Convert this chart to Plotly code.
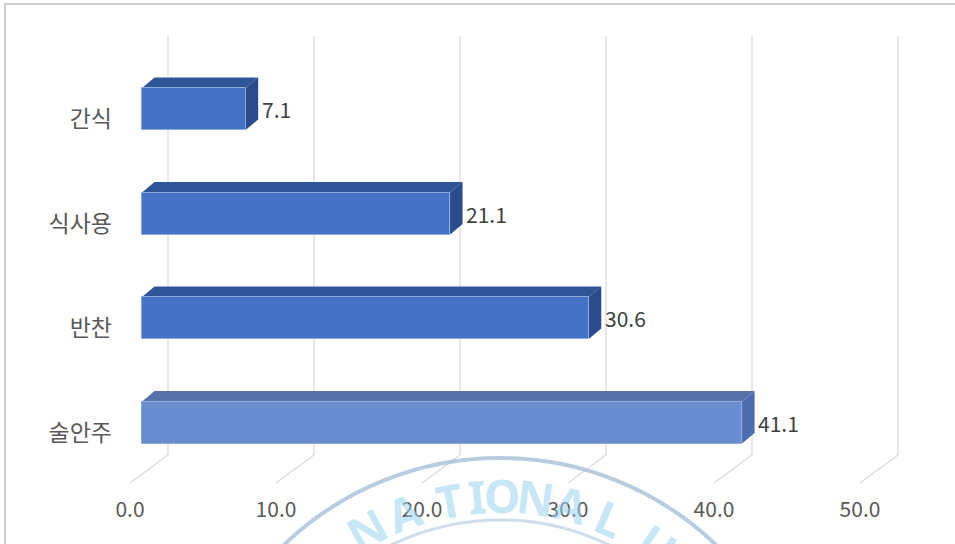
import math
import plotly.graph_objects as go

# ---- data -------------------------------------------------------------
categories = ["간식", "식사용", "반찬", "술안주"]          # top to bottom
values = [7.1, 21.1, 30.6, 41.1]
x_ticks = [0, 10, 20, 30, 40, 50]

front_colors = ["#4472C4", "#4472C4", "#4472C4", "#6A8DD0"]
top_colors = ["#2F5597", "#2F5597", "#2F5597", "#5672A8"]
side_colors = ["#2A4C8C", "#2A4C8C", "#2A4C8C", "#4D6CAD"]

# ---- geometry of the oblique 3-D projection (in axis units) ------------
W, H = 955, 544
L, R, T, B = 125, 950, 10, 495          # plot area in pixels
PX_PER_X = 14.6                         # pixels per unit on the value axis
X0_PX = 142                             # pixel of value 0 on the front plane
PX_PER_Y = 104.5                        # pixels per category step
Y0_PX = 422.5                           # pixel of the bottom category

x_range = [(L - X0_PX) / PX_PER_X, (R - X0_PX) / PX_PER_X]
y_range = [(Y0_PX - B) / PX_PER_Y, (Y0_PX - T) / PX_PER_Y]

bar_h = 42 / PX_PER_Y                  # bar thickness
depth_dx = 12.5 / PX_PER_X             # bar depth vector
depth_dy = 10.5 / PX_PER_Y
wall_dx = 26 / PX_PER_X                # back wall offset for gridlines
floor_dx = -12 / PX_PER_X              # front edge of the floor
wall_top = (Y0_PX - 36) / PX_PER_Y
wall_bottom = (Y0_PX - 455) / PX_PER_Y
floor_front = (Y0_PX - 483) / PX_PER_Y

n = len(categories)
ypos = [n - 1 - k for k in range(n)]   # 간식 on top

fig = go.Figure()

fig.add_trace(go.Bar(
    x=values, y=ypos, orientation="h", width=bar_h,
    marker=dict(color=front_colors, line=dict(color="#8EAADB", width=1)),
    hoverinfo="skip", showlegend=False,
))

shapes = []

# back-wall gridlines with their floor diagonals
for v in x_ticks:
    path = (f"M {v + floor_dx},{floor_front} L {v + wall_dx},{wall_bottom} "
            f"L {v + wall_dx},{wall_top}")
    shapes.append(dict(type="path", path=path, xref="x", yref="y",
                       line=dict(color="#D9D9D9", width=1.2), layer="below"))

# top and side faces of each bar
for v, y, tc, sc in zip(values, ypos, top_colors, side_colors):
    y_top, y_bot = y + bar_h / 2, y - bar_h / 2
    top = (f"M 0,{y_top} L {v},{y_top} L {v + depth_dx},{y_top + depth_dy} "
           f"L {depth_dx},{y_top + depth_dy} Z")
    side = (f"M {v},{y_bot} L {v},{y_top} L {v + depth_dx},{y_top + depth_dy} "
            f"L {v + depth_dx},{y_bot + depth_dy} Z")
    shapes.append(dict(type="path", path=top, xref="x", yref="y",
                       fillcolor=tc, line=dict(width=0), layer="below"))
    shapes.append(dict(type="path", path=side, xref="x", yref="y",
                       fillcolor=sc, line=dict(width=0), layer="below"))


def px_to_paper(px, py):
    return (px - L) / (R - L), (B - py) / (B - T)


# chart frame
fx0, fy1 = px_to_paper(5, 4)
fx1, fy0 = px_to_paper(962, 550)
shapes.append(dict(type="rect", xref="paper", yref="paper", x0=fx0, x1=fx1,
                   y0=fy0, y1=fy1, line=dict(color="#D0D0D0", width=2)))

# university seal watermark
seal_cx, seal_cy = 500, 770
for r, col, w in [(312, "rgba(160,185,212,0.75)", 4), (250, "rgba(175,198,222,0.6)", 3)]:
    x0, y1 = px_to_paper(seal_cx - r, seal_cy - r)
    x1, y0 = px_to_paper(seal_cx + r, seal_cy + r)
    shapes.append(dict(type="circle", xref="paper", yref="paper",
                       x0=x0, x1=x1, y0=y0, y1=y1,
                       line=dict(color=col, width=w), layer="above"))

annotations = []
seal_letters = [("N", -29), ("A", -20.5), ("T", -10.5), ("I", -4.8), ("O", 0.5),
                ("N", 7.4), ("A", 15), ("L", 23.5), ("U", 35)]
for ch, ang in seal_letters:
    rad = math.radians(ang)
    lx = seal_cx + 275 * math.sin(rad)
    ly = seal_cy - 275 * math.cos(rad)
    px, py = px_to_paper(lx, ly)
    annotations.append(dict(x=px, y=py, xref="paper", yref="paper", text=ch,
                            showarrow=False, textangle=ang,
                            xanchor="center", yanchor="middle",
                            font=dict(family="Noto Sans", size=46, weight="bold",
                                      color="rgba(150,210,240,0.55)")))

# value labels beside the bar ends
for v, y in zip(values, ypos):
    annotations.append(dict(x=v, y=y, xref="x", yref="y", text=f"{v:.1f}",
                            showarrow=False, xanchor="left", xshift=14,
                            font=dict(family="Noto Sans CJK KR", size=21,
                                      color="#404040")))

fig.update_layout(
    width=W, height=H,
    margin=dict(l=L, r=W - R, t=T, b=H - B),
    paper_bgcolor="white", plot_bgcolor="rgba(0,0,0,0)",
    shapes=shapes, annotations=annotations,
    font=dict(family="Noto Sans CJK KR", size=21, color="#595959"),
    bargap=0,
    xaxis=dict(range=x_range, tickvals=x_ticks,
               ticktext=[f"{t:.1f}" for t in x_ticks],
               showgrid=False, zeroline=False, showline=False, ticks="",
               ticklabelshift=-12, ticklabelstandoff=0, fixedrange=True),
    yaxis=dict(range=y_range, tickvals=ypos, ticktext=categories,
               tickfont=dict(size=23),
               showgrid=False, zeroline=False, showline=False, ticks="",
               ticklabelshift=10, ticklabelstandoff=12, fixedrange=True),
)

fig.write_html("out.html")
